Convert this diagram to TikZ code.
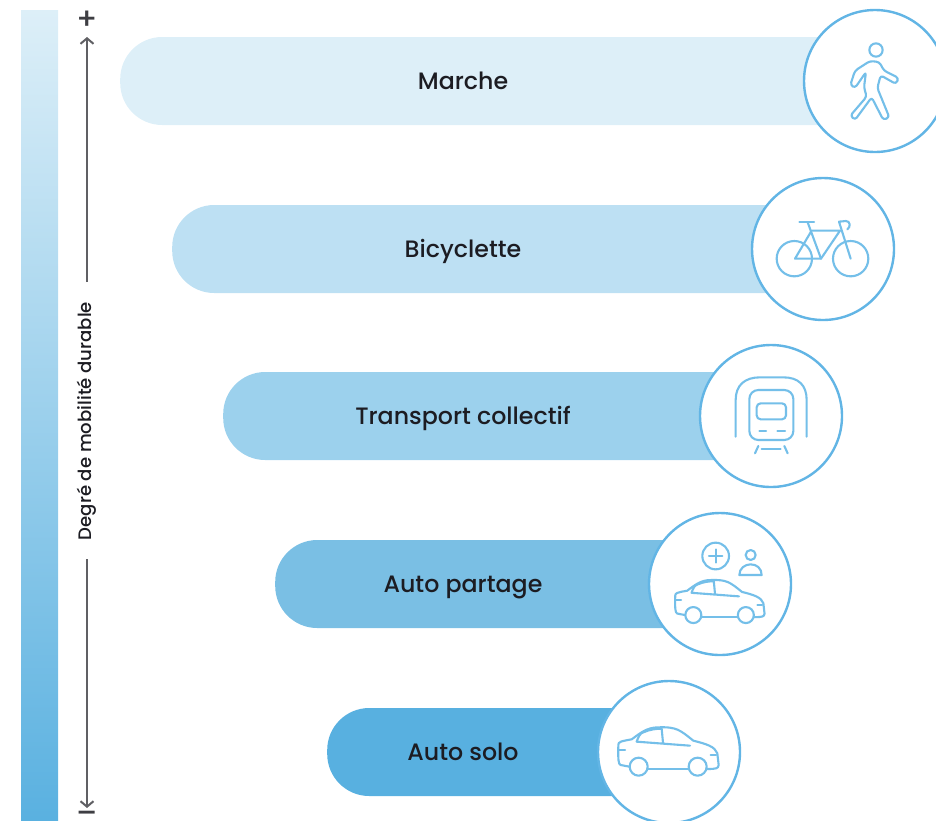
\documentclass[tikz,border=0pt]{standalone}
\usepackage{fontspec}
\setmainfont{Poppins}[UprightFont=* Medium]
\usetikzlibrary{arrows.meta}
\definecolor{cA}{HTML}{DDEFF8}
\definecolor{cB}{HTML}{BDE0F3}
\definecolor{cC}{HTML}{9CD1ED}
\definecolor{cD}{HTML}{7ABFE4}
\definecolor{cE}{HTML}{58B0E0}
\definecolor{ring}{HTML}{62B5E5}
\definecolor{ico}{HTML}{74BFE9}
\definecolor{ink}{HTML}{1C1C22}
\tikzset{
  pill/.style={fill=#1,draw=none,rounded corners=42pt,minimum height=88pt,inner sep=0pt,anchor=west},
  disc/.style={circle,draw=ring,fill=white,line width=2.4pt,minimum size=142pt,inner sep=0pt},
  lab/.style={text=ink,font=\fontsize{23.7}{26}\selectfont,inner sep=0pt,anchor=base},
  icon/.style={draw=ico,line width=2.1pt,line cap=round,line join=round},
  axisline/.style={draw=ink!70,line width=1.4pt},
  axisarrow/.style={axisline,-{Straight Barb[length=5.5pt,width=13pt,line width=2pt]}},
  sign/.style={text=ink!85,font=\fontsize{30}{30}\selectfont,inner sep=0pt},
  axislab/.style={text=ink,font=\fontsize{18.1}{20}\selectfont,rotate=90,inner sep=0pt}
}
\newcommand{\carIcon}{%
  \draw[icon] (118,290) -- (92,285) .. controls (85,282) and (84,270) .. (85,225) .. controls (85,216) and (90,214) .. (125,208)
    .. controls (150,190) and (170,172) .. (205,172) .. controls (260,170) and (270,180) .. (310,212)
    .. controls (350,222) and (375,230) .. (382,250) -- (386,285) .. controls (385,295) and (380,297) .. (352,297);
  \draw[icon] (173,297) -- (295,297);
  \draw[icon] (146,290) circle[radius=27];
  \draw[icon] (323,290) circle[radius=27];
  \draw[icon] (300,227) -- (140,215) .. controls (145,200) and (150,190) .. (160,187) .. controls (180,178) and (200,176) .. (215,176) -- (219,218);
  \draw[icon] (88,240) -- (105,240);
  \draw[icon] (362,255) -- (378,255);
}
\begin{document}
\begin{tikzpicture}[x=1pt,y=-1pt]
\useasboundingbox (0,0) rectangle (936,820);
% gradient scale
\shade[top color=cA,bottom color=cE!95!cD] (21,10) rectangle (58,820);
% axis
\node[axislab] (axlab) at (87,421) {Degré de mobilité durable};
\coordinate (upstart) at (87,282);
\coordinate (uptip) at (87,37);
\coordinate (downstart) at (87,559);
\coordinate (downtip) at (87,808);
\draw[axisarrow] (upstart) -- (uptip);
\draw[axisarrow] (downstart) -- (downtip);
\node[sign] (plus) at (87,20) {+};
\node[sign] (minus) at (87,817) {\smash{\raisebox{-6.3pt}{–}}};
% pills
\node[pill=cA,minimum width=755pt] (p1) at (120,81) {};
\node[pill=cB,minimum width=651pt] (p2) at (172,249) {};
\node[pill=cC,minimum width=548pt] (p3) at (223,416) {};
\node[pill=cD,minimum width=445pt] (p4) at (275,584) {};
\node[pill=cE,minimum width=342pt] (p5) at (327,752) {};
% labels
\node[lab] (l1) at (463,89) {Marche};
\node[lab] (l2) at (463,257) {Bicyclette};
\node[lab] (l3) at (463,424) {Transport collectif};
\node[lab] (l4) at (463,592) {Auto partage};
\node[lab] (l5) at (463,760) {Auto solo};
% circles
\node[disc] (c1) at (875,81) {};
\node[disc] (c2) at (823,249) {};
\node[disc] (c3) at (771,416) {};
\node[disc] (c4) at (720,584) {};
\node[disc] (c5) at (669,752) {};
% walker
\begin{scope}[shift={(790,0)},x=0.3333pt,y=-0.3333pt]
  \draw[icon] (258,150) circle[radius=20];
  \draw[icon,rounded corners=3pt] (240,183) -- (268,186) -- (282,212) -- (326,234) -- (318,252) -- (272,226) -- (262,264) -- (298,352) -- (280,360) -- (245,292) -- (195,360) -- (181,347) -- (230,290) -- (222,262) -- (228,216) -- (195,264) -- (181,255) -- (195,212) -- cycle;
\end{scope}
% bicycle
\begin{scope}[shift={(740,170)},x=0.3333pt,y=-0.3333pt]
  \draw[icon] (163,266) circle[radius=53];
  \draw[icon] (332,266) circle[radius=53];
  \draw[icon] (178,155) -- (222,155);
  \draw[icon] (203,157) -- (243,266) -- (165,266) -- (213,185);
  \draw[icon] (215,182) -- (300,182) -- (243,266);
  \draw[icon] (332,266) -- (297,155) -- (318,153) .. controls (332,153) and (332,172) .. (322,178);
\end{scope}
% train
\begin{scope}[shift={(690,340)},x=0.3333pt,y=-0.3333pt]
  \draw[icon] (137,290) -- (137,180) .. controls (137,135) and (165,112) .. (210,112) -- (280,112) .. controls (325,112) and (350,135) .. (350,180) -- (350,290);
  \draw[icon,rounded corners=9pt] (178,150) rectangle (310,300);
  \draw[icon,rounded corners=4pt] (200,190) rectangle (288,238);
  \draw[icon] (208,272) -- (228,272);
  \draw[icon] (262,272) -- (285,272);
  \draw[icon] (205,318) -- (195,340);
  \draw[icon] (283,318) -- (293,340);
  \draw[icon] (215,326) -- (272,326);
\end{scope}
% car share
\begin{scope}[shift={(640,505)},x=0.3333pt,y=-0.3333pt]
  \draw[icon] (227,153) circle[radius=40];
  \draw[icon] (207,153) -- (247,153);
  \draw[icon] (227,133) -- (227,173);
  \draw[icon] (332,150) circle[radius=15];
  \draw[icon] (298,210) .. controls (298,190) and (315,178) .. (332,178) .. controls (350,178) and (365,190) .. (365,210) -- cycle;
\end{scope}
\begin{scope}[shift={(650,529)},x=0.2967pt,y=-0.2967pt]
  \carIcon
\end{scope}
% solo car
\begin{scope}[shift={(590,670)},x=0.3333pt,y=-0.3333pt]
  \carIcon
\end{scope}
\end{tikzpicture}
\end{document}
